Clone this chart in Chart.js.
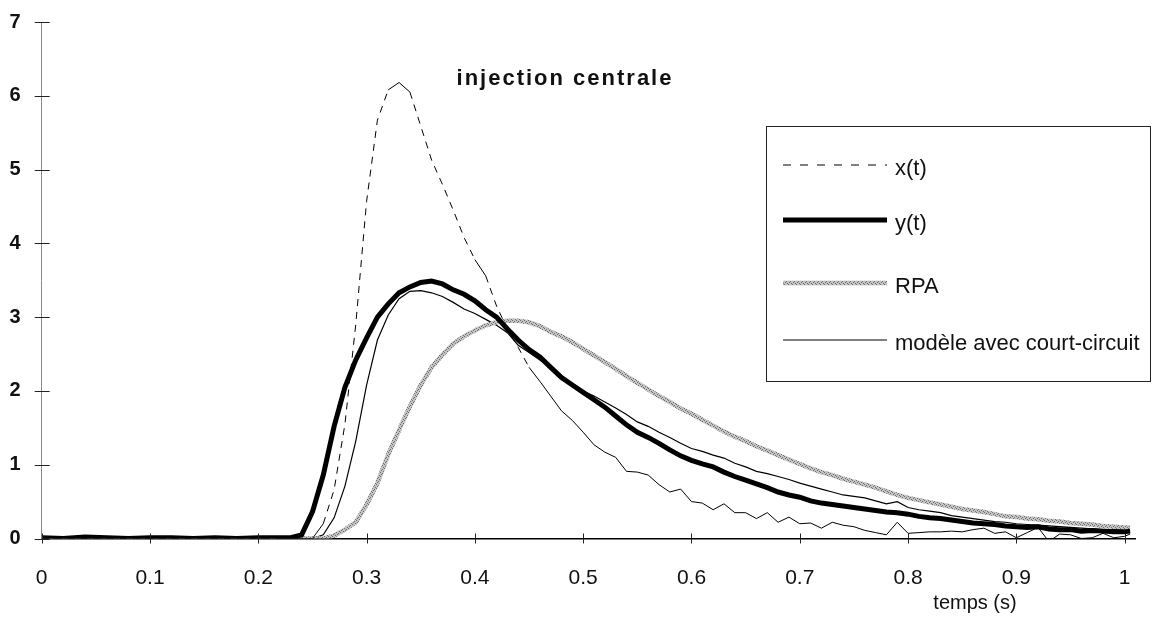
<!DOCTYPE html>
<html>
<head>
<meta charset="utf-8">
<script src="https://cdn.jsdelivr.net/npm/chart.js@4.4.1/dist/chart.umd.min.js"></script>
<style>
  body { margin: 0; background: #fff; }
  #cadre { width: 1155px; height: 621px; position: relative; }
</style>
</head>
<body>
<div id="cadre"><canvas id="graphe"></canvas></div>
<script>
// temps (s)
const temps = [0, 0.02, 0.04, 0.06, 0.08, 0.10, 0.12, 0.14, 0.16, 0.18, 0.20, 0.22,
  0.23, 0.24, 0.25, 0.26, 0.27, 0.28, 0.29, 0.30, 0.31, 0.32, 0.33, 0.34, 0.35, 0.36, 0.37, 0.38, 0.39,
  0.40, 0.41, 0.42, 0.43, 0.44, 0.45, 0.46, 0.47, 0.48, 0.49, 0.50, 0.51, 0.52, 0.53, 0.54, 0.55, 0.56,
  0.57, 0.58, 0.59, 0.60, 0.61, 0.62, 0.63, 0.64, 0.65, 0.66, 0.67, 0.68, 0.69, 0.70, 0.71, 0.72, 0.73,
  0.74, 0.75, 0.76, 0.77, 0.78, 0.79, 0.80, 0.81, 0.82, 0.83, 0.84, 0.85, 0.86, 0.87, 0.88, 0.89, 0.90,
  0.91, 0.92, 0.93, 0.94, 0.95, 0.96, 0.97, 0.98, 0.99, 1.00, 1.005];

// x(t) : injection
const serieX = [0, 0, 0, 0, 0, 0, 0, 0, 0, 0, 0, 0,
  0, 0, 0, 0.2, 0.66, 1.55, 2.9, 4.57, 5.67, 6.08, 6.18, 6.05, 5.59, 5.13, 4.8, 4.45, 4.08,
  3.78, 3.56, 3.15, 2.84, 2.59, 2.32, 2.13, 1.93, 1.73, 1.6, 1.44, 1.27, 1.17, 1.1, 0.91, 0.9, 0.86,
  0.73, 0.63, 0.67, 0.5, 0.48, 0.39, 0.47, 0.35, 0.35, 0.27, 0.35, 0.22, 0.29, 0.2, 0.21, 0.14, 0.22,
  0.18, 0.16, 0.11, 0.08, 0.05, 0.22, 0.07, 0.08, 0.09, 0.09, 0.1, 0.09, 0.12, 0.14, 0.07, 0.09, 0.01,
  0.08, 0.15, -0.04, 0.06, 0.05, 0, 0.01, 0.07, 0.01, 0.03, 0.06];

// y(t) : sortie mesurée
const serieY = [0.01, 0, 0.02, 0.01, 0, 0.01, 0.01, 0, 0.01, 0, 0.01, 0.01,
  0.01, 0.05, 0.36, 0.86, 1.52, 2.05, 2.42, 2.72, 3.0, 3.18, 3.33, 3.41, 3.47, 3.49, 3.45, 3.37, 3.31,
  3.22, 3.1, 3.0, 2.84, 2.69, 2.56, 2.46, 2.32, 2.18, 2.08, 1.98, 1.88, 1.78, 1.66, 1.54, 1.44, 1.37,
  1.29, 1.2, 1.12, 1.06, 1.01, 0.97, 0.9, 0.84, 0.79, 0.74, 0.69, 0.63, 0.59, 0.56, 0.51, 0.48, 0.46,
  0.44, 0.42, 0.4, 0.38, 0.36, 0.35, 0.33, 0.3, 0.28, 0.27, 0.25, 0.23, 0.21, 0.2, 0.19, 0.17, 0.16,
  0.15, 0.16, 0.13, 0.12, 0.12, 0.1, 0.11, 0.1, 0.09, 0.09, 0.1];

// RPA
const serieRPA = [0, 0, 0, 0, 0, 0, 0, 0, 0, 0, 0, 0,
  0, 0, 0, 0, 0.04, 0.12, 0.22, 0.46, 0.75, 1.14, 1.47, 1.79, 2.08, 2.32, 2.49, 2.64, 2.74,
  2.82, 2.89, 2.93, 2.95, 2.95, 2.93, 2.88, 2.8, 2.74, 2.66, 2.57, 2.48, 2.39, 2.3, 2.2, 2.11, 2.02,
  1.93, 1.85, 1.76, 1.69, 1.61, 1.53, 1.45, 1.38, 1.32, 1.25, 1.19, 1.13, 1.07, 1.01, 0.95, 0.9, 0.86,
  0.81, 0.77, 0.73, 0.69, 0.64, 0.59, 0.55, 0.52, 0.49, 0.46, 0.43, 0.4, 0.38, 0.36, 0.33, 0.3, 0.29,
  0.27, 0.26, 0.24, 0.23, 0.21, 0.2, 0.19, 0.17, 0.16, 0.15, 0.15];

// modèle avec court-circuit
const serieModele = [0, 0, 0, 0, 0, 0, 0, 0, 0, 0, 0, 0,
  0, 0, 0, 0.05, 0.28, 0.71, 1.32, 2.08, 2.69, 3.03, 3.25, 3.35, 3.36, 3.33, 3.28, 3.2, 3.11,
  3.05, 2.97, 2.89, 2.79, 2.62, 2.52, 2.42, 2.32, 2.21, 2.09, 2.0, 1.93, 1.85, 1.77, 1.68, 1.58, 1.52,
  1.44, 1.37, 1.29, 1.22, 1.18, 1.13, 1.09, 1.02, 0.97, 0.91, 0.88, 0.84, 0.8, 0.75, 0.71, 0.67, 0.63,
  0.59, 0.57, 0.55, 0.51, 0.47, 0.5, 0.42, 0.39, 0.37, 0.35, 0.31, 0.29, 0.27, 0.25, 0.23, 0.22, 0.2,
  0.19, 0.18, 0.17, 0.16, 0.15, 0.14, 0.13, 0.12, 0.12, 0.11, 0.11];

const ticksX = [0, 0.1, 0.2, 0.3, 0.4, 0.5, 0.6, 0.7, 0.8, 0.9, 1];
const etiquettesX = ['0', '0.1', '0.2', '0.3', '0.4', '0.5', '0.6', '0.7', '0.8', '0.9', '1'];
const titre = 'injection centrale';
const titreAxeX = 'temps (s)';

const police = '"Liberation Sans", Arial, sans-serif';

// texture grise du trait RPA
function motifRPA() {
    let c = document.createElement('canvas');
    c.width = 4; c.height = 4;
    let g = c.getContext('2d');
    g.fillStyle = '#c4c4c4';
    g.fillRect(0, 0, 4, 4);
    g.fillStyle = '#6e6e6e';
    g.fillRect(0, 0, 1, 1); g.fillRect(2, 1, 1, 1);
    g.fillRect(1, 2, 1, 1); g.fillRect(3, 3, 1, 1);
    return g.createPattern(c, 'repeat');
}

function points(serie) {
    return temps.map((t, i) => ({ x: t, y: serie[i] }));
}

// tirets seulement sur les longs segments (comme le tracé d'origine)
function tiretsLongs(ctx) {
    let dx = ctx.p1.x - ctx.p0.x, dy = ctx.p1.y - ctx.p0.y;
    return Math.hypot(dx, dy) > 20 ? [7, 6] : [];
}

const fondBlanc = {
    id: 'fondBlanc',
    beforeDraw(chart) {
        let c = chart.ctx;
        c.save();
        c.fillStyle = '#fff';
        c.fillRect(0, 0, chart.width, chart.height);
        c.restore();
    }
};

// petites graduations qui traversent les axes
const graduations = {
    id: 'graduations',
    afterDatasetsDraw(chart) {
        let c = chart.ctx, sx = chart.scales.x, sy = chart.scales.y;
        c.save();
        c.strokeStyle = '#222';
        c.lineWidth = 1;
        c.beginPath();
        sx.ticks.forEach(t => {
            let px = Math.round(sx.getPixelForValue(t.value)) + 0.5;
            c.moveTo(px, sy.bottom - 5); c.lineTo(px, sy.bottom + 5);
        });
        sy.ticks.forEach(t => {
            let py = Math.round(sy.getPixelForValue(t.value)) + 0.5;
            c.moveTo(sx.left - 7, py); c.lineTo(sx.left + 8, py);
        });
        c.stroke();
        c.restore();
    }
};

const textesEtLegende = {
    id: 'textesEtLegende',
    afterDraw(chart) {
        let c = chart.ctx;
        c.save();
        c.fillStyle = '#111';
        c.textBaseline = 'middle';

        // titre
        c.font = 'bold 22px ' + police;
        c.letterSpacing = '2px';
        c.textAlign = 'center';
        c.fillText(titre, 565, 79);
        c.letterSpacing = '0px';

        // titre de l'axe x
        c.font = '20px ' + police;
        c.fillText(titreAxeX, 975, 603);

        // légende encadrée
        c.fillStyle = '#fff';
        c.fillRect(766, 126, 384, 255);
        c.strokeStyle = '#222';
        c.lineWidth = 1;
        c.setLineDash([]);
        c.strokeRect(766.5, 126.5, 384, 255);

        let lignesY = [165, 220, 283, 340];
        chart.data.datasets.forEach((ds, i) => {
            let y = lignesY[i];
            c.save();
            c.strokeStyle = ds.borderColor;
            c.lineWidth = ds.borderWidth;
            c.setLineDash(ds.legendeTirets || []);
            c.beginPath();
            c.moveTo(783, y); c.lineTo(887, y);
            c.stroke();
            c.restore();
            c.fillStyle = '#111';
            c.textAlign = 'left';
            c.font = '22px ' + police;
            c.fillText(ds.label, 895, y + 4);
        });
        c.restore();
    }
};

let ctx = document.getElementById('graphe').getContext('2d');
let chart = new Chart(ctx, {
    type: 'line',
    data: {
        datasets: [{
            label: 'x(t)',
            data: points(serieX),
            borderColor: '#000',
            borderWidth: 1,
            legendeTirets: [8, 9],
            segment: { borderDash: tiretsLongs }
        }, {
            label: 'y(t)',
            data: points(serieY),
            borderColor: '#000',
            borderWidth: 5
        }, {
            label: 'RPA',
            data: points(serieRPA),
            borderColor: motifRPA(),
            borderWidth: 4.5
        }, {
            label: 'modèle avec court-circuit',
            data: points(serieModele),
            borderColor: '#000',
            borderWidth: 1.2
        }]
    },
    options: {
        responsive: true,
        maintainAspectRatio: false,
        animation: false,
        layout: { padding: { top: 22, right: 19.5, left: 0, bottom: 0 } },
        elements: { point: { radius: 0 }, line: { tension: 0, fill: false } },
        plugins: { legend: { display: false }, title: { display: false }, tooltip: { enabled: false } },
        scales: {
            x: {
                type: 'linear',
                min: 0,
                max: 1.01,
                afterBuildTicks: s => { s.ticks = ticksX.map(v => ({ value: v })); },
                afterFit: s => { s.height = 82.5; s.paddingLeft = 0; s.paddingRight = 0; },
                ticks: {
                    callback: (v, i) => etiquettesX[i],
                    maxRotation: 0,
                    autoSkip: false,
                    padding: 27,
                    color: '#111',
                    font: { family: police, size: 21 }
                },
                grid: { drawOnChartArea: false, drawTicks: false },
                border: { color: '#000', width: 1.5 }
            },
            y: {
                min: 0,
                max: 7,
                afterFit: s => { s.width = 41.7; s.paddingTop = 0; s.paddingBottom = 0; },
                ticks: {
                    stepSize: 1,
                    padding: 21,
                    color: '#111',
                    font: { family: police, size: 20, weight: 'bold' }
                },
                grid: { drawOnChartArea: false, drawTicks: false },
                border: { color: '#8a8a8a', width: 1, dash: [2, 1] }
            }
        }
    },
    plugins: [fondBlanc, graduations, textesEtLegende]
});
</script>
</body>
</html>
